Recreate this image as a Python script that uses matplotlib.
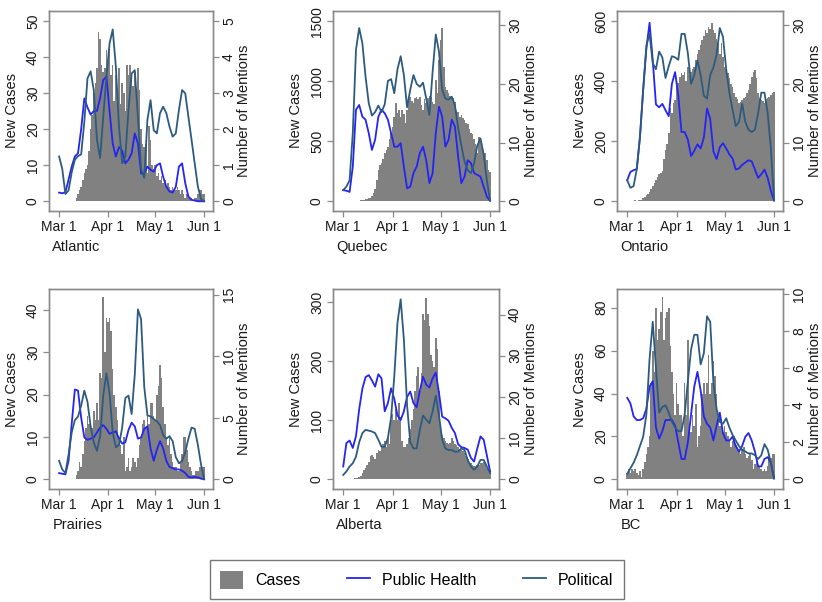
import matplotlib
matplotlib.use("Agg")
import matplotlib.pyplot as plt
from matplotlib.patches import Patch
from matplotlib.lines import Line2D
import numpy as np

plt.rcParams['font.family'] = ['Liberation Sans', 'DejaVu Sans']

# x tick labels (days since Mar 1)
tick_days = [0, 31, 61, 92]
tick_names = ['Mar 1', 'Apr 1', 'May 1', 'Jun 1']

# daily new cases, Mar 1 .. Jun 1
atl_cases = [0, 0, 0, 0, 0, 0, 0, 0, 0, 0, 0,
             1, 2, 3, 4, 6, 8, 9, 10, 14, 20,
             24, 30, 33, 37, 47, 45, 38, 36, 37, 42,
             39, 43, 35, 38, 28, 35, 30, 37, 27, 33,
             30, 25, 38, 35, 38, 34, 32, 36, 30, 37,
             31, 20, 16, 15, 16, 8, 21, 17, 10, 9,
             10, 7, 8, 6, 7, 5, 6, 4, 5, 4,
             3, 4, 3, 3, 4, 3, 2, 3, 2, 1,
             2, 1, 1, 1, 0, 1, 1, 2, 3, 3, 2, 2]
que_cases = [0, 0, 0, 0, 1, 1, 2, 3, 4, 5, 6, 8, 10, 12, 15,
             20, 25, 30, 45, 70, 100,
             180, 260, 300, 320, 350, 400, 430, 455, 520, 570,
             620, 700, 817, 733, 760, 705, 761, 730, 650, 761,
             844, 872, 840, 820, 860, 872, 850, 870, 800, 760,
             850, 820, 860, 880, 870, 830, 810, 1011, 900, 1178,
             1344, 1442, 1122, 956, 928, 900, 880, 870, 860, 830,
             760, 740, 705, 720, 690, 680, 650, 640, 600, 570,
             560, 520, 480, 400, 539, 510, 450, 428, 400, 344,
             261, 240]
ont_cases = [1, 1, 2, 1, 2, 3, 2, 3, 4, 5,
             10, 15, 20, 25, 32, 40, 50, 60, 70, 80,
             90, 95, 100, 140, 170, 190, 227, 310, 293, 327,
             338, 382, 393, 415, 427, 420, 432, 400, 449, 420,
             432, 440, 449, 470, 490, 504, 520, 538, 550, 571,
             560, 582, 575, 593, 570, 560, 540, 527, 490, 527,
             480, 449, 440, 427, 410, 390, 382, 360, 349, 340,
             327, 330, 338, 345, 349, 360, 371, 390, 415, 430,
             438, 410, 360, 345, 338, 335, 327, 340, 345, 349,
             355, 360, 365]
pra_cases = [0, 0, 0, 0, 0, 0, 0, 0, 0, 0, 0,
             1, 2, 4, 3, 6, 9, 12, 15, 13, 13,
             12, 16, 14, 18, 14, 25, 24, 43, 30, 38,
             37, 38, 35, 26, 20, 17, 14, 10, 8, 6,
             10, 2, 3, 5, 2, 3, 5, 4, 3, 5,
             8, 10, 13, 14, 12, 15, 13, 18, 18, 15,
             14, 20, 22, 27, 24, 17, 13, 10, 8, 10,
             6, 4, 3, 3, 2, 2, 4, 6, 10, 10,
             7, 4, 3, 2, 1, 1, 2, 2, 3, 3,
             3, 3]
alb_cases = [0, 0, 0, 0, 0, 0, 0,
             2, 2, 3, 4, 6, 10, 15, 20, 25, 30,
             40, 42, 38, 35, 45, 50, 48, 55, 60, 65,
             55, 70, 60, 100, 110, 100, 120, 100, 130, 105,
             65, 55, 55, 60, 70, 85, 100, 120, 150, 175,
             190, 150, 180, 280, 270, 307, 280, 260, 210, 200,
             190, 240, 220, 150, 95, 75, 70, 65, 62, 60,
             62, 70, 65, 60, 58, 55, 52, 50, 48, 45,
             40, 35, 30, 28, 25, 22, 22, 25, 25, 28,
             28, 30, 30, 20, 18, 15]
bc_cases = [3, 5, 3, 5, 4, 5, 3, 2, 4, 1,
            5, 8, 12, 15, 20, 45, 60, 50, 80, 65,
            70, 78, 85, 65, 75, 78, 80, 62, 50, 40,
            30, 45, 35, 30, 30, 20, 45, 30, 65, 25,
            22, 30, 25, 35, 15, 20, 25, 40, 45, 40,
            45, 58, 40, 45, 55, 48, 40, 30, 25, 28,
            22, 25, 22, 20, 18, 15, 18, 20, 16, 15,
            13, 12, 14, 15, 12, 10, 11, 12, 9, 5,
            7, 8, 6, 6, 5, 4, 5, 4, 6, 12,
            10, 12, 12]

# mentions, read every second day (Mar 1, Mar 3, ... Jun 1)
atl_ph = [0.24, 0.22, 0.25, 0.6, 0.96, 1.24, 1.33, 2.0, 2.85, 2.6,
          2.4, 2.5, 2.5, 2.85, 3.36, 3.45, 2.5, 1.6, 1.24, 1.5,
          1.4, 1.05, 1.15, 1.33, 1.88, 1.6, 0.77, 0.77, 0.96, 0.87,
          0.82, 1.0, 1.05, 0.68, 0.4, 0.27, 0.24, 0.4, 0.96, 1.05,
          0.5, 0.13, 0.04, 0.02, 0, 0, 0]
atl_pol = [1.24, 0.9, 0.2, 0.3, 0.8, 1.15, 1.25, 1.3, 2.2, 3.4,
           3.6, 3.08, 1.7, 1.2, 2.34, 3.45, 4.37, 4.76, 3.73, 2.07,
           1.05, 1.24, 2.53, 3.54, 3.63, 2.34, 0.9, 0.65, 2.25, 2.8,
           1.97, 1.88, 2.44, 2.62, 2.44, 2.07, 1.79, 1.88, 2.53, 3.08,
           2.99, 2.34, 1.7, 1.05, 0.41, 0.06, 0]
que_ph = [1.9, 1.8, 1.6, 5.9, 15.6, 16.4, 14.4, 13.9, 11.6, 8.75,
          10.5, 14.4, 15.6, 15, 13.9, 11.6, 9.3, 9.3, 9.9, 5.9,
          2.2, 2.5, 4.8, 5.9, 8.2, 9.3, 7.0, 3.1, 4.8, 11.6,
          16.1, 14.4, 9.3, 10.5, 13.9, 12.7, 7.6, 3.1, 4.2, 7.0,
          6.5, 4.8, 4.5, 4.2, 2.5, 0.8, 0.1]
que_pol = [1.9, 2.5, 3.6, 11.6, 25.8, 29.5, 26.9, 21.2, 16.7, 14.6,
           15.2, 16.3, 15.2, 16.5, 20.5, 20.8, 18.4, 22.5, 24.7, 21.5,
           16.0, 19.0, 21.5, 20.0, 19.5, 20.2, 17.5, 14.7, 22.0, 28.4,
           25.5, 19.0, 17.5, 17.3, 17.8, 16.3, 12.5, 9.5, 6.8, 5.3,
           4.8, 6.5, 9.5, 10.7, 8.0, 3.5, 0.1]
ont_ph = [3.6, 5.0, 5.3, 5.5, 11, 19, 26, 30.4, 24, 16.5,
          16.0, 16.6, 15.5, 14.5, 20, 22, 18, 11.8, 11.8, 10.5,
          7.7, 8.6, 9.7, 9.0, 10.8, 15.8, 14, 8.5, 7.2, 9.2,
          9.9, 9.0, 8.0, 7.3, 5.4, 5.6, 6.2, 6.6, 7.0, 6.8,
          5.4, 4.0, 4.6, 5.4, 4.0, 1.8, 0.1]
ont_pol = [3.6, 2.3, 2.6, 5.5, 11, 19, 26.5, 28.5, 23.5, 22.5,
           25.5, 24.5, 21, 23, 24.7, 24.5, 24.1, 28.5, 28.5, 25.2,
           20, 21.5, 24, 21.5, 18, 17.5, 21.5, 22.8, 25, 29.5,
           28, 22.5, 18.5, 15.6, 12.8, 13.5, 16.6, 13.5, 12.2, 11.8,
           12.2, 15, 18.5, 18.5, 15, 9, 0.2]
pra_ph = [0.5, 0.45, 0.4, 1.5, 4.5, 7.3, 7.2, 5.0, 3.4, 3.2,
          3.3, 3.4, 3.8, 4.2, 4.4, 4.1, 3.7, 3.8, 3.9, 3.3,
          2.9, 3.0, 4.0, 4.6, 4.3, 3.3, 3.4, 4.1, 4.3, 2.5,
          1.5, 2.4, 3.1, 2.5, 1.5, 1.0, 0.9, 0.8, 0.8, 0.7,
          0.5, 0.2, 0.15, 0.2, 0.15, 0.05, 0]
pra_pol = [1.5, 0.8, 0.5, 2.0, 3.8, 4.8, 5.1, 6.0, 7.2, 6.3,
           4.3, 3.0, 2.3, 3.5, 6.8, 8.6, 7.0, 3.8, 2.6, 2.8,
           4.2, 6.6, 6.8, 5.3, 8.5, 13.8, 13.0, 7.5, 5.2, 5.1,
           4.9, 4.7, 4.4, 3.6, 3.3, 3.5, 3.1, 1.8, 1.3, 1.5,
           2.2, 3.3, 4.2, 4.1, 2.8, 1.2, 0]
alb_ph = [3.1, 8.8, 9.4, 7.6, 10.5, 17, 22, 24.8, 25.3, 24,
          22.5, 25.5, 24.5, 16.5, 18.5, 22.1, 19.5, 15.5, 14.4, 16.5,
          20, 21.3, 18.5, 17.5, 21.5, 24.9, 23, 22.3, 24.5, 25.9,
          21, 15.2, 14.8, 14.2, 12.5, 11.2, 8.5, 7.8, 7.6, 7.2,
          5.2, 4.3, 7.5, 10.4, 9.6, 5.8, 1.9]
alb_pol = [1.05, 1.9, 3.1, 3.9, 5.5, 9.0, 11.2, 12, 11.8, 11.6,
           11.2, 9.6, 7.9, 7.9, 10, 15, 25, 38, 43.7, 34,
           18, 9, 7.5, 7.5, 12, 15.5, 14.5, 13.6, 16.5, 20.3,
           15.5, 9.6, 7.5, 7.1, 7.1, 6.7, 6.7, 7.5, 7.1, 4.7,
           3.1, 2.3, 3.1, 4.7, 4.7, 3.1, 1.5]
bc_ph = [4.4, 4.1, 3.4, 3.2, 3.2, 3.3, 3.8, 5.0, 5.3, 2.8,
         2.2, 2.6, 3.2, 3.2, 3.2, 2.9, 2.0, 1.1, 1.1, 2.0,
         3.5, 5.0, 5.8, 4.8, 3.4, 3.0, 2.8, 2.1, 2.9, 3.6,
         2.5, 2.1, 2.1, 2.3, 1.8, 1.5, 1.8, 2.3, 2.5, 2.1,
         1.5, 0.7, 0.7, 1.1, 1.2, 0.9, 0.05]
bc_pol = [0.3, 0.6, 0.9, 1.3, 1.8, 2.3, 3.5, 6.5, 8.5, 6.0,
          3.6, 3.9, 4.0, 3.6, 3.1, 2.8, 2.6, 2.6, 3.5, 5.3,
          7.0, 7.8, 7.8, 6.2, 6.8, 8.8, 8.5, 5.2, 3.8, 3.1,
          3.0, 3.3, 2.8, 2.4, 2.1, 1.8, 1.6, 1.5, 1.4, 1.4,
          1.3, 1.1, 1.3, 1.9, 1.6, 0.9, 0.05]

regions = ['Atlantic', 'Quebec', 'Ontario', 'Prairies', 'Alberta', 'BC']
cases = [atl_cases, que_cases, ont_cases, pra_cases, alb_cases, bc_cases]
ph = [atl_ph, que_ph, ont_ph, pra_ph, alb_ph, bc_ph]
pol = [atl_pol, que_pol, ont_pol, pra_pol, alb_pol, bc_pol]
left_ticks = [[0, 10, 20, 30, 40, 50], [0, 500, 1000, 1500], [0, 200, 400, 600],
              [0, 10, 20, 30, 40], [0, 100, 200, 300], [0, 20, 40, 60, 80]]
right_ticks = [[0, 1, 2, 3, 4, 5], [0, 10, 20, 30], [0, 10, 20, 30],
               [0, 5, 10, 15], [0, 10, 20, 30, 40], [0, 2, 4, 6, 8, 10]]

# layout: axes box in pixels (left, top, right, bottom) and y ranges
W, H = 822, 602
boxes = [(49, 11, 213, 211), (333, 11, 499, 211), (617, 11, 783, 211),
         (49, 289, 213, 489), (333, 289, 499, 489), (617, 289, 783, 489)]
ylims_l = [(-2.7, 52.9), (-81, 1586), (-32, 634), (-2.3, 44.9), (-16.4, 322.5), (-4.5, 88.7)]
ylims_r = [(-0.27, 5.27), (-1.65, 32.4), (-1.65, 32.4), (-0.79, 15.46), (-2.36, 46.2), (-0.52, 10.27)]

bar_col = '#818181'
ph_col = '#2424f5'
pol_col = '#2d5b80'
frame_col = '#8a8a8a'
txt_col = '#1a1a1a'

fig = plt.figure(figsize=(W / 100, H / 100), dpi=100)

for i in range(6):
    l, t, r, b = boxes[i]
    ax = fig.add_axes([l / W, 1 - b / H, (r - l) / W, (b - t) / H])
    days = np.arange(len(cases[i]))
    ax.bar(days, cases[i], width=1.0, color=bar_col, linewidth=0)
    ax.set_xlim(-6.4, 97.6)
    ax.set_ylim(*ylims_l[i])
    ax.set_xticks(tick_days)
    ax.set_xticklabels(tick_names)
    ax.set_yticks(left_ticks[i])
    ax.set_yticklabels([str(v) for v in left_ticks[i]], rotation=90, va='center')
    ax.set_ylabel('New Cases', fontsize=10.5, color=txt_col)
    ax.yaxis.set_label_coords(-0.183, 0.5)

    ax2 = ax.twinx()
    ldays = np.arange(0, 2 * len(ph[i]), 2)
    ax2.plot(ldays, ph[i], color=ph_col, lw=1.3)
    ax2.plot(ldays, pol[i], color=pol_col, lw=1.3)
    ax2.set_ylim(*ylims_r[i])
    ax2.set_yticks(right_ticks[i])
    ax2.set_yticklabels([str(v) for v in right_ticks[i]], rotation=90, va='center')
    ax2.set_ylabel('Number of Mentions', fontsize=10.5, color=txt_col)
    ax2.yaxis.set_label_coords(1.148, 0.5)

    for a in (ax, ax2):
        for s in a.spines.values():
            s.set_color(frame_col)
            s.set_linewidth(1.0)
        a.tick_params(direction='out', length=4, width=0.9, color=frame_col,
                      labelsize=10, labelcolor=txt_col, pad=2.5)

    ax.text(0.02, -0.18, regions[i], transform=ax.transAxes, ha='left', va='center',
            fontsize=10.5, color=txt_col)

handles = [Patch(facecolor=bar_col, edgecolor='none'),
           Line2D([], [], color=ph_col, lw=1.3),
           Line2D([], [], color=pol_col, lw=1.3)]
leg = fig.legend(handles, ['Cases', 'Public Health', 'Political'], loc='center',
                 bbox_to_anchor=(0.507, 0.037), ncol=3, fontsize=11.5, frameon=True,
                 fancybox=False, edgecolor='#555555', handlelength=1.45, handleheight=1.4,
                 handletextpad=0.75, columnspacing=2.9, borderpad=0.65)
leg.get_frame().set_linewidth(1.0)

fig.savefig('out.png', dpi=100)
